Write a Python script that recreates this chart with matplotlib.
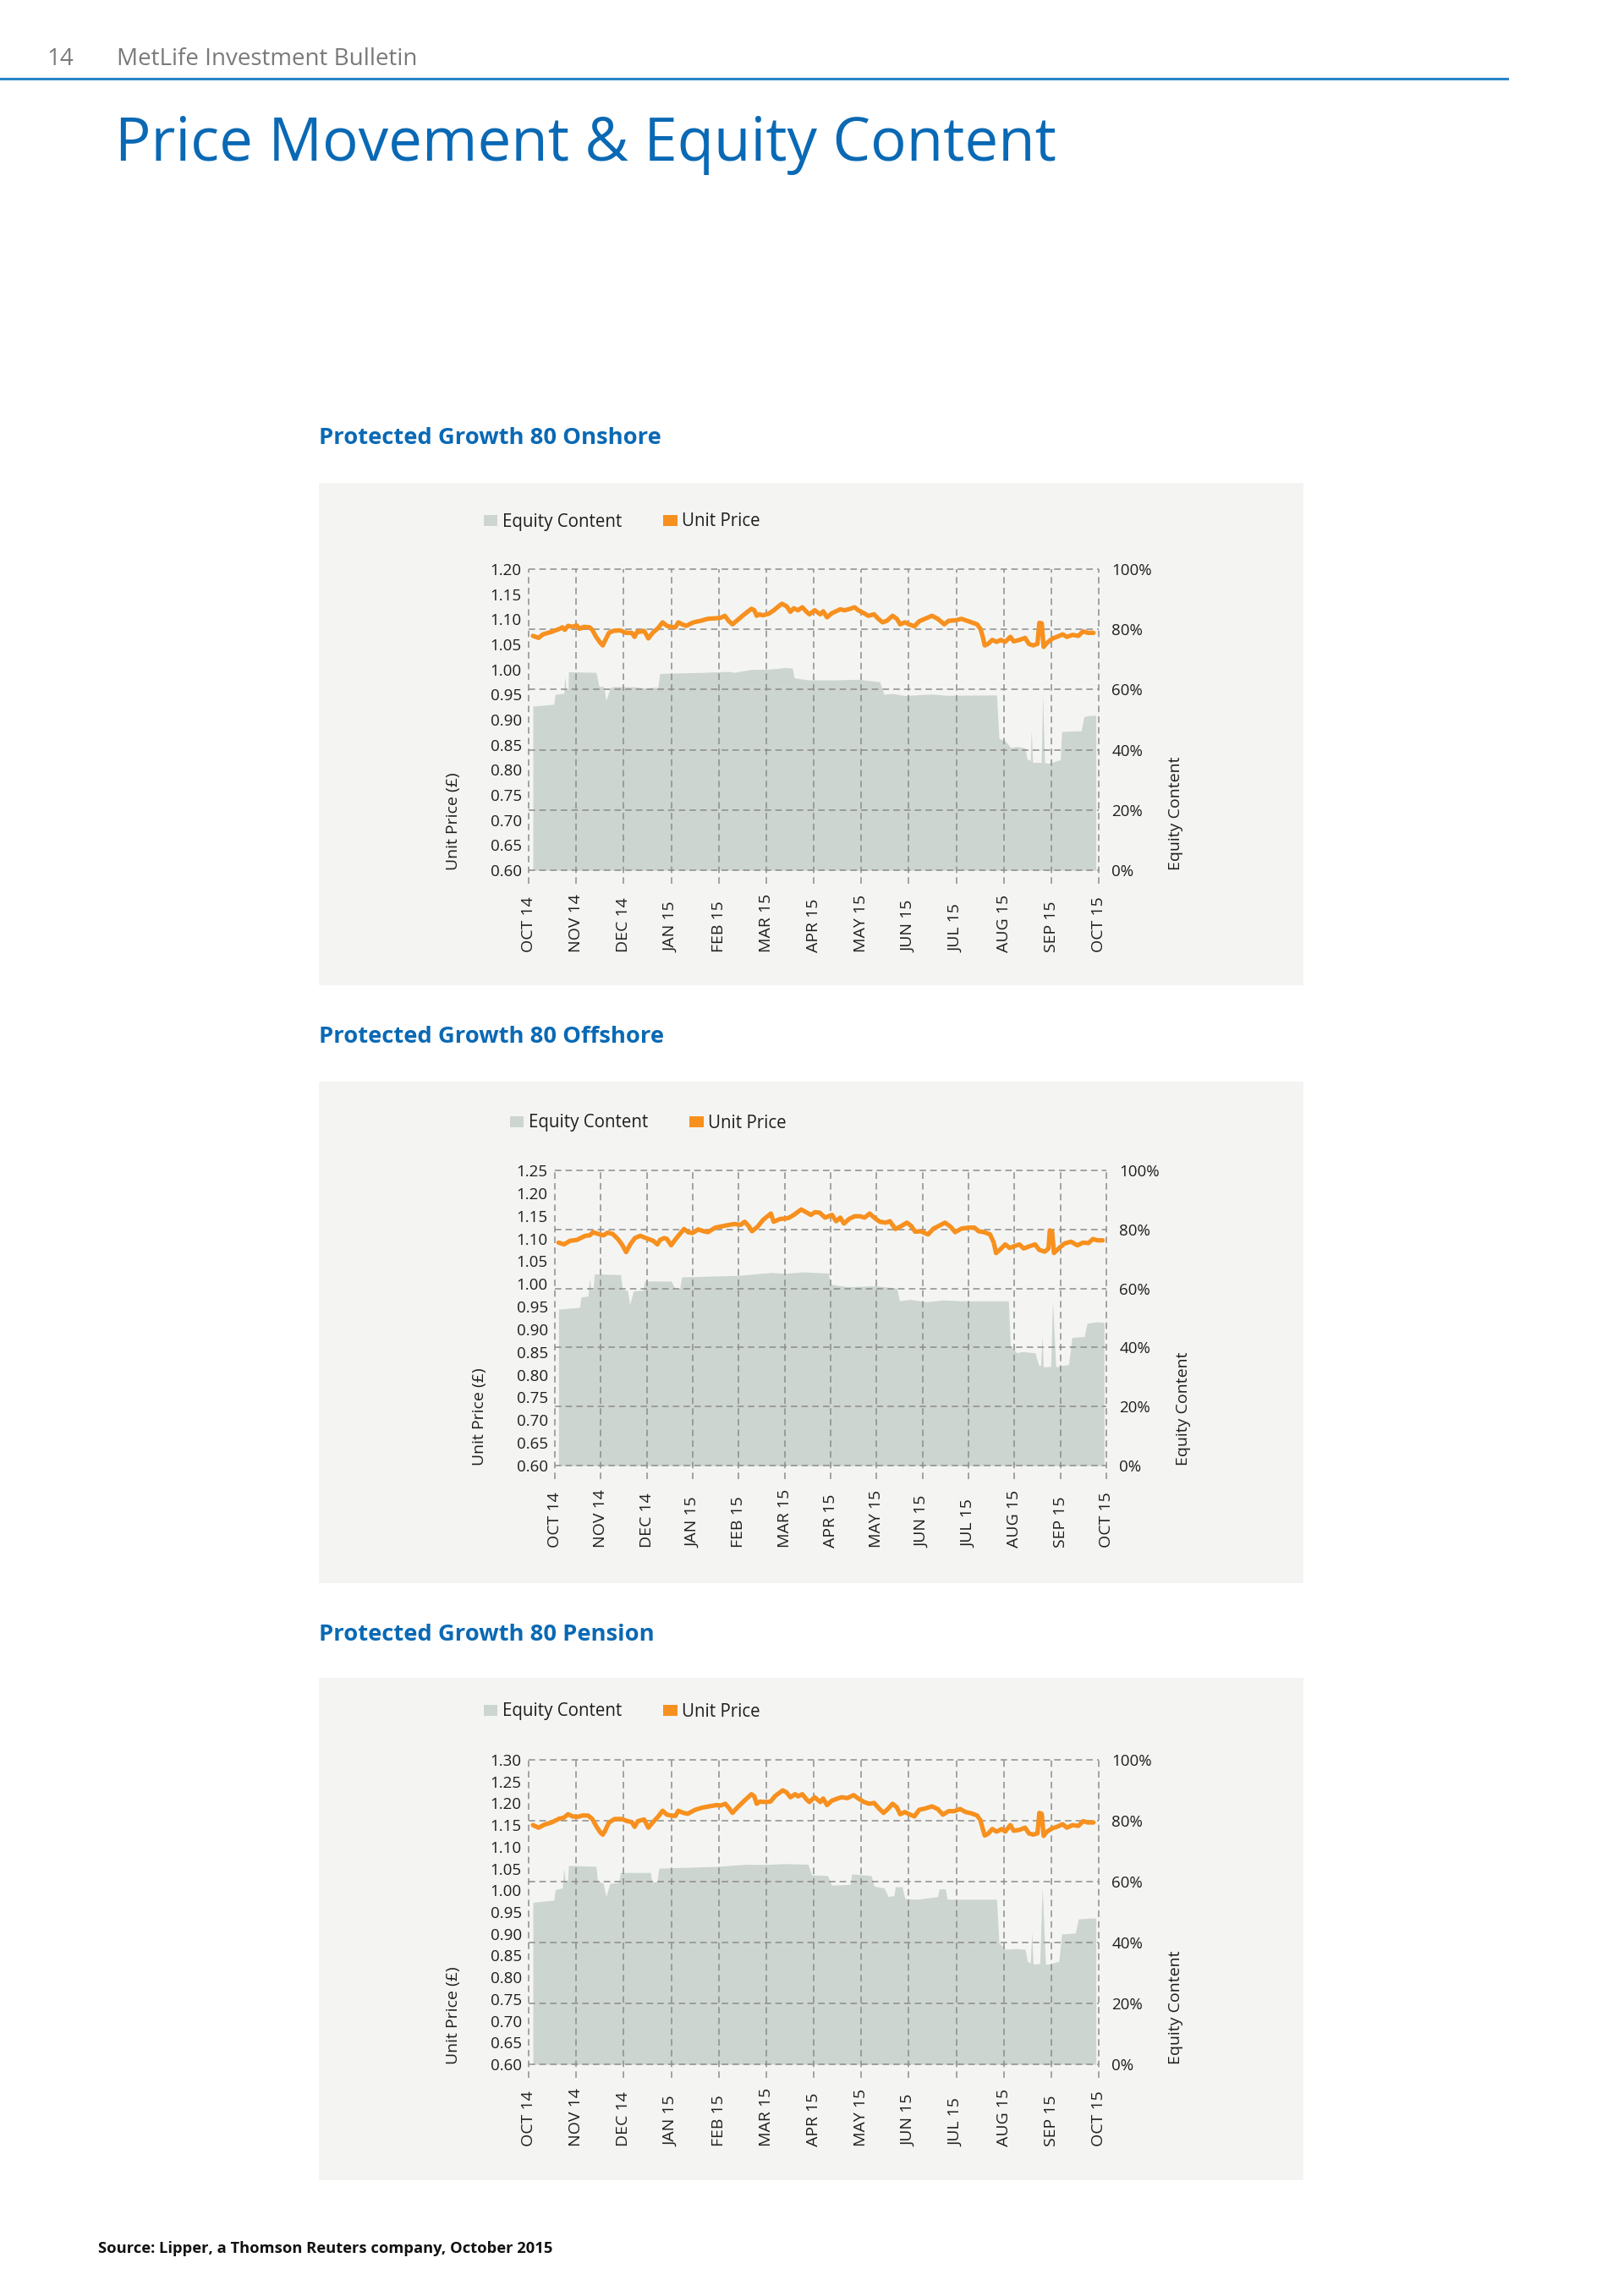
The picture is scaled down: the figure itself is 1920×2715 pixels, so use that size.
import matplotlib
matplotlib.use('Agg')
import matplotlib.pyplot as plt
from matplotlib.patches import Rectangle, Patch
from matplotlib.lines import Line2D
from matplotlib.transforms import ScaledTranslation

# ---------------- data ----------------
months = ["OCT 14", "NOV 14", "DEC 14", "JAN 15", "FEB 15", "MAR 15", "APR 15",
          "MAY 15", "JUN 15", "JUL 15", "AUG 15", "SEP 15", "OCT 15"]
equity_ticks = [0, 20, 40, 60, 80, 100]
equity_tick_labels = ["0%", "20%", "40%", "60%", "80%", "100%"]

titles = ["Protected Growth 80 Onshore", "Protected Growth 80 Offshore", "Protected Growth 80 Pension"]

price_ticks_onshore = [0.60, 0.65, 0.70, 0.75, 0.80, 0.85, 0.90, 0.95, 1.00, 1.05, 1.10, 1.15, 1.20]
price_ticks_offshore = [0.60, 0.65, 0.70, 0.75, 0.80, 0.85, 0.90, 0.95, 1.00, 1.05, 1.10, 1.15, 1.20, 1.25]
price_ticks_pension = [0.60, 0.65, 0.70, 0.75, 0.80, 0.85, 0.90, 0.95, 1.00, 1.05, 1.10, 1.15, 1.20, 1.25, 1.30]

# x positions are in months since OCT 14 (0 = OCT 14, 12 = OCT 15)
price_x_onshore = [0.09, 0.21, 0.30, 0.48, 0.65, 0.71, 0.76, 0.83, 0.92, 1.01, 1.07, 1.16, 1.28, 1.34, 1.42, 1.51,
                   1.56, 1.60, 1.69, 1.78, 1.93, 2.05, 2.17, 2.23, 2.29, 2.34, 2.43, 2.52, 2.61, 2.73, 2.82, 2.91,
                   3.00, 3.09, 3.15, 3.23, 3.32, 3.38, 3.47, 3.62, 3.77, 3.92, 4.04, 4.13, 4.21, 4.29, 4.39, 4.54,
                   4.69, 4.75, 4.80, 4.86, 4.93, 5.05, 5.16, 5.25, 5.33, 5.43, 5.51, 5.58, 5.67, 5.76, 5.85, 5.91,
                   6.02, 6.14, 6.20, 6.28, 6.38, 6.47, 6.56, 6.65, 6.77, 6.86, 6.94, 7.06, 7.15, 7.27, 7.36, 7.45,
                   7.54, 7.66, 7.75, 7.82, 7.92, 8.01, 8.12, 8.22, 8.34, 8.49, 8.61, 8.75, 8.84, 8.99, 9.11, 9.20,
                   9.32, 9.44, 9.51, 9.56, 9.60, 9.67, 9.76, 9.85, 9.94, 10.03, 10.14, 10.21, 10.33, 10.45, 10.53,
                   10.62, 10.71, 10.75, 10.80, 10.84, 10.91, 11.03, 11.12, 11.24, 11.33, 11.45, 11.57, 11.67,
                   11.77, 11.89]
price_onshore = [1.067, 1.063, 1.070, 1.075, 1.081, 1.084, 1.079, 1.087, 1.085, 1.088, 1.081, 1.085, 1.084, 1.079,
                 1.065, 1.053, 1.048, 1.056, 1.073, 1.077, 1.078, 1.073, 1.073, 1.065, 1.076, 1.075, 1.077, 1.062,
                 1.073, 1.083, 1.094, 1.087, 1.085, 1.084, 1.094, 1.090, 1.087, 1.090, 1.094, 1.097, 1.101, 1.102,
                 1.103, 1.107, 1.097, 1.090, 1.098, 1.110, 1.121, 1.118, 1.107, 1.110, 1.108, 1.111, 1.118, 1.125,
                 1.131, 1.126, 1.115, 1.122, 1.118, 1.124, 1.115, 1.110, 1.118, 1.110, 1.116, 1.104, 1.112, 1.116,
                 1.120, 1.118, 1.121, 1.124, 1.118, 1.112, 1.107, 1.110, 1.101, 1.094, 1.097, 1.107, 1.101, 1.090,
                 1.094, 1.090, 1.086, 1.096, 1.101, 1.107, 1.101, 1.090, 1.097, 1.098, 1.101, 1.098, 1.094, 1.090,
                 1.081, 1.065, 1.048, 1.051, 1.059, 1.055, 1.059, 1.055, 1.065, 1.056, 1.059, 1.063, 1.051, 1.048,
                 1.051, 1.093, 1.092, 1.045, 1.053, 1.062, 1.065, 1.070, 1.065, 1.069, 1.067, 1.076, 1.073, 1.073]
equity_x_onshore = [0.09, 0.53, 0.56, 0.71, 0.74, 0.76, 0.79, 0.83, 0.84, 1.42, 1.48, 1.58, 1.63, 1.72, 1.78, 2.23,
                    2.43, 2.61, 2.72, 2.76, 3.15, 3.68, 4.21, 4.33, 4.69, 4.99, 5.16, 5.40, 5.55, 5.59, 5.88, 6.47,
                    6.94, 7.39, 7.48, 7.66, 7.92, 8.25, 8.49, 8.78, 9.85, 9.90, 10.03, 10.15, 10.27, 10.45, 10.49,
                    10.56, 10.58, 10.61, 10.79, 10.82, 10.86, 10.95, 11.13, 11.19, 11.22, 11.63, 11.69, 11.81, 11.94]
equity_onshore = [54.5, 55.1, 58.4, 58.7, 58.7, 64.5, 60.1, 60.1, 65.9, 65.7, 61.0, 61.0, 56.4, 60.6, 61.0, 60.9,
                  60.5, 60.7, 60.7, 65.3, 65.5, 65.7, 66.0, 65.7, 66.7, 66.7, 66.9, 67.3, 67.1, 63.9, 63.2, 63.2,
                  63.4, 62.6, 58.4, 58.7, 58.0, 58.3, 58.5, 58.1, 58.2, 43.7, 43.0, 40.7, 41.1, 40.6, 37.0,
                  36.4, 46.3, 35.8, 35.8, 58.2, 35.7, 35.5, 36.4, 36.6, 46.1, 46.3, 51.0, 51.4, 51.4]

price_x_offshore = [0.08, 0.20, 0.33, 0.48, 0.66, 0.76, 0.83, 0.94, 1.06, 1.15, 1.26, 1.37, 1.46, 1.55, 1.64, 1.74,
                    1.86, 1.98, 2.14, 2.23, 2.29, 2.38, 2.44, 2.53, 2.63, 2.72, 2.81, 2.90, 2.99, 3.12, 3.24, 3.33,
                    3.49, 3.64, 3.79, 3.91, 4.04, 4.13, 4.22, 4.29, 4.41, 4.53, 4.70, 4.76, 4.90, 5.08, 5.20, 5.36,
                    5.45, 5.57, 5.66, 5.76, 5.88, 6.03, 6.12, 6.21, 6.29, 6.40, 6.52, 6.64, 6.74, 6.85, 6.95, 7.07,
                    7.20, 7.29, 7.41, 7.53, 7.66, 7.75, 7.84, 7.96, 8.12, 8.24, 8.36, 8.49, 8.61, 8.71, 8.85, 9.01,
                    9.13, 9.22, 9.34, 9.47, 9.55, 9.60, 9.68, 9.80, 9.90, 9.99, 10.11, 10.20, 10.33, 10.45, 10.54,
                    10.66, 10.74, 10.77, 10.82, 10.86, 10.97, 11.09, 11.23, 11.37, 11.49, 11.61, 11.71, 11.80, 11.92]
price_offshore = [1.091, 1.087, 1.095, 1.097, 1.106, 1.107, 1.114, 1.110, 1.107, 1.113, 1.110, 1.099, 1.087, 1.070,
                  1.087, 1.101, 1.106, 1.101, 1.095, 1.087, 1.097, 1.101, 1.099, 1.085, 1.099, 1.110, 1.121, 1.114,
                  1.112, 1.120, 1.116, 1.114, 1.124, 1.127, 1.130, 1.132, 1.130, 1.137, 1.127, 1.116, 1.126, 1.141,
                  1.155, 1.137, 1.143, 1.145, 1.152, 1.164, 1.159, 1.152, 1.158, 1.157, 1.146, 1.152, 1.138, 1.146,
                  1.133, 1.143, 1.149, 1.149, 1.146, 1.155, 1.146, 1.137, 1.135, 1.138, 1.121, 1.127, 1.135, 1.128,
                  1.115, 1.116, 1.109, 1.122, 1.128, 1.135, 1.126, 1.114, 1.122, 1.124, 1.124, 1.116, 1.114, 1.109,
                  1.091, 1.068, 1.075, 1.087, 1.079, 1.083, 1.087, 1.078, 1.083, 1.087, 1.075, 1.071, 1.078, 1.118,
                  1.115, 1.068, 1.079, 1.089, 1.093, 1.085, 1.091, 1.090, 1.099, 1.096, 1.096]
equity_x_offshore = [0.08, 0.54, 0.57, 0.72, 0.755, 0.785, 0.83, 0.86, 1.43, 1.47, 1.58, 1.63, 1.71, 1.92, 1.95,
                     2.53, 2.63, 2.72, 2.76, 3.24, 3.98, 4.71, 5.02, 5.39, 5.95, 6.00, 6.12, 6.37, 6.98, 7.44, 7.50,
                     7.72, 8.09, 8.45, 8.82, 9.87, 9.91, 10.05, 10.17, 10.45, 10.53, 10.57, 10.60, 10.63, 10.79,
                     10.83, 10.90, 11.03, 11.18, 11.25, 11.52, 11.58, 11.80, 11.95]
equity_offshore = [53.0, 53.6, 57.1, 57.4, 63.5, 59.6, 59.6, 64.9, 64.7, 59.6, 59.4, 54.6, 59.2, 59.4, 62.5,
                   62.5, 59.6, 60.1, 63.9, 64.1, 64.4, 65.4, 65.1, 65.6, 65.2, 61.5, 61.1, 60.6, 60.9, 60.1, 55.8,
                   56.3, 55.5, 56.1, 55.8, 55.8, 40.6, 38.2, 38.6, 38.2, 33.9, 33.9, 43.9, 33.4, 33.6,
                   55.8, 33.4, 33.9, 34.2, 43.4, 43.7, 48.2, 48.7, 48.5]

price_x_pension = [0.09, 0.21, 0.33, 0.48, 0.65, 0.74, 0.83, 0.92, 1.04, 1.13, 1.25, 1.34, 1.42, 1.51, 1.56, 1.60,
                   1.69, 1.81, 1.96, 2.08, 2.17, 2.23, 2.30, 2.43, 2.52, 2.61, 2.73, 2.82, 2.91, 3.00, 3.09, 3.15,
                   3.26, 3.35, 3.50, 3.65, 3.80, 3.95, 4.04, 4.14, 4.21, 4.29, 4.39, 4.54, 4.69, 4.75, 4.80, 4.87,
                   4.99, 5.09, 5.19, 5.35, 5.43, 5.51, 5.61, 5.67, 5.76, 5.85, 5.91, 6.02, 6.14, 6.20, 6.28, 6.38,
                   6.50, 6.59, 6.71, 6.84, 6.94, 7.06, 7.17, 7.27, 7.36, 7.47, 7.57, 7.66, 7.75, 7.82, 7.92, 8.01,
                   8.12, 8.22, 8.34, 8.49, 8.61, 8.72, 8.84, 8.96, 9.08, 9.20, 9.32, 9.44, 9.51, 9.56, 9.60, 9.67,
                   9.76, 9.85, 9.96, 10.03, 10.14, 10.21, 10.33, 10.45, 10.53, 10.62, 10.71, 10.75, 10.80, 10.84,
                   10.91, 11.03, 11.12, 11.24, 11.33, 11.45, 11.57, 11.67, 11.77, 11.89]
price_pension = [1.150, 1.144, 1.151, 1.156, 1.165, 1.167, 1.175, 1.170, 1.169, 1.172, 1.172, 1.164, 1.148, 1.133,
                 1.128, 1.135, 1.156, 1.164, 1.164, 1.159, 1.157, 1.146, 1.159, 1.163, 1.144, 1.156, 1.170, 1.183,
                 1.174, 1.172, 1.171, 1.183, 1.178, 1.176, 1.185, 1.190, 1.193, 1.196, 1.195, 1.199, 1.190, 1.178,
                 1.190, 1.206, 1.221, 1.216, 1.199, 1.204, 1.203, 1.204, 1.217, 1.230, 1.225, 1.214, 1.221, 1.216,
                 1.221, 1.209, 1.203, 1.214, 1.203, 1.211, 1.196, 1.206, 1.211, 1.214, 1.212, 1.219, 1.211, 1.203,
                 1.199, 1.201, 1.190, 1.178, 1.188, 1.199, 1.191, 1.175, 1.180, 1.175, 1.170, 1.185, 1.188, 1.193,
                 1.187, 1.174, 1.182, 1.182, 1.187, 1.180, 1.177, 1.172, 1.161, 1.141, 1.126, 1.130, 1.141, 1.135,
                 1.141, 1.135, 1.150, 1.137, 1.139, 1.144, 1.131, 1.128, 1.131, 1.178, 1.176, 1.125, 1.135, 1.143,
                 1.146, 1.152, 1.144, 1.150, 1.148, 1.159, 1.156, 1.156]
equity_x_pension = [0.09, 0.53, 0.56, 0.71, 0.74, 0.77, 0.82, 0.84, 1.42, 1.45, 1.57, 1.63, 1.71, 1.90, 1.93, 2.56,
                    2.60, 2.70, 2.74, 3.15, 3.98, 4.57, 4.93, 5.40, 5.88, 5.96, 6.29, 6.38, 6.77, 6.80, 7.21, 7.27,
                    7.48, 7.57, 7.69, 7.72, 7.86, 7.92, 8.19, 8.61, 8.64, 8.77, 8.81, 9.85, 9.90, 10.03, 10.27,
                    10.45, 10.50, 10.56, 10.59, 10.62, 10.76, 10.81, 10.88, 10.94, 11.16, 11.22, 11.51, 11.57,
                    11.81, 11.94]
equity_pension = [53.2, 53.9, 57.4, 57.9, 64.4, 60.2, 60.2, 65.3, 65.0, 60.2, 59.4, 55.1, 59.4, 59.7, 63.0, 63.0,
                  59.7, 60.0, 64.4, 64.6, 65.0, 65.7, 65.6, 65.9, 65.7, 62.2, 62.0, 58.8, 59.1, 62.5, 62.0, 58.5,
                  57.9, 55.1, 55.4, 58.3, 58.3, 54.4, 54.2, 55.1, 57.6, 57.6, 54.2, 54.2, 40.0, 37.8, 38.0,
                  37.8, 33.8, 33.3, 43.5, 32.9, 33.1, 58.1, 32.9, 32.9, 33.8, 42.8, 43.1, 47.7,
                  48.0, 48.0]

# ---------------- style ----------------
W, H, DPI = 1920, 2715, 100
BLUE = '#0a69b4'
ORANGE = '#f7901e'
FILL = '#cdd5d0'
PANEL = '#f4f5f3'
GRID = '#8c8c8c'
TXT = '#1e1e1e'

plt.rcParams['font.family'] = ['Open Sans', 'DejaVu Sans']

fig = plt.figure(figsize=(W / DPI, H / DPI), dpi=DPI)
fig.patch.set_facecolor('white')


def fx(px):
    return px / W


def fy(py):
    return 1 - py / H


# header
fig.text(fx(55), fy(77), '14', fontsize=20, color='#7a7a7a', va='baseline')
fig.text(fx(138), fy(77), 'MetLife Investment Bulletin', fontsize=20, color='#7a7a7a', va='baseline')
fig.add_artist(Line2D([0, fx(1782)], [fy(93), fy(93)], color='#2a85c6', lw=2.2))
fig.text(fx(136), fy(190), 'Price Movement & Equity Content', fontsize=51, color=BLUE, va='baseline')

charts = [
    dict(title=titles[0], ticks=price_ticks_onshore, px=price_x_onshore, py=price_onshore,
         ex=equity_x_onshore, ey=equity_onshore,
         box=(625, 673, 1299, 1029), panel=(377, 571, 1541, 1165), tbase=525, leg=(572, 617)),
    dict(title=titles[1], ticks=price_ticks_offshore, px=price_x_offshore, py=price_offshore,
         ex=equity_x_offshore, ey=equity_offshore,
         box=(656, 1384, 1308, 1733), panel=(377, 1279, 1541, 1872), tbase=1233, leg=(603, 1328)),
    dict(title=titles[2], ticks=price_ticks_pension, px=price_x_pension, py=price_pension,
         ex=equity_x_pension, ey=equity_pension,
         box=(625, 2081, 1299, 2441), panel=(377, 1984, 1541, 2578), tbase=1940, leg=(572, 2024)),
]

dash = (0, (5, 3.3))

for c in charts:
    pl, pt, pr, pb = c['panel']
    fig.add_artist(Rectangle((fx(pl), fy(pb)), (pr - pl) / W, (pb - pt) / H,
                             transform=fig.transFigure, facecolor=PANEL, edgecolor='none', zorder=0))
    fig.text(fx(377), fy(c['tbase']), c['title'], fontsize=19.7, fontweight='bold', color=BLUE, va='baseline')

    l, t, r, b = c['box']
    ax = fig.add_axes([fx(l), fy(b), (r - l) / W, (b - t) / H])
    ax2 = ax.twinx()
    ax.set_zorder(ax2.get_zorder() + 1)
    ax.patch.set_visible(False)
    ax2.patch.set_visible(False)

    ax.set_xlim(0, 12)
    ax2.set_xlim(0, 12)
    ax.set_ylim(c['ticks'][0], c['ticks'][-1])
    ax2.set_ylim(0, 100)

    ax2.fill_between(c['ex'], 0, c['ey'], color=FILL, lw=0, zorder=1)
    for v in equity_ticks:
        ax2.axhline(v, color=GRID, lw=1.1, ls=dash, zorder=2, clip_on=False)
    for m in range(len(months)):
        ax2.axvline(m, ymin=-0.045, ymax=1, color=GRID, lw=1.1, ls=dash, zorder=2, clip_on=False)

    ax.plot(c['px'], c['py'], color=ORANGE, lw=3.8, solid_joinstyle='round', solid_capstyle='round', zorder=3)

    for a in (ax, ax2):
        for s in a.spines.values():
            s.set_visible(False)
        a.set_xticks([])

    ax.set_yticks(c['ticks'])
    ax.set_yticklabels(['%.2f' % v for v in c['ticks']])
    ax.tick_params(axis='y', length=0, pad=6, labelsize=13.5, labelcolor=TXT)
    ax2.set_yticks(equity_ticks)
    ax2.set_yticklabels(equity_tick_labels)
    ax2.tick_params(axis='y', length=0, pad=11, labelsize=13.5, labelcolor=TXT)

    off = ScaledTranslation(0, -97 / DPI, fig.dpi_scale_trans)
    for i, lab in enumerate(months):
        ax.text(i, 0, lab, transform=ax.get_xaxis_transform() + off, rotation=90,
                ha='center', va='bottom', fontsize=14, color=TXT)

    ax.text(0, 0, 'Unit Price (£)', transform=ax.transAxes + ScaledTranslation(-89 / DPI, 0, fig.dpi_scale_trans),
            rotation=90, ha='center', va='bottom', fontsize=14, color=TXT)
    ax.text(1, 0, 'Equity Content', transform=ax.transAxes + ScaledTranslation(91 / DPI, 0, fig.dpi_scale_trans),
            rotation=90, ha='center', va='bottom', fontsize=14, color=TXT)

    lx, ly = c['leg']
    ax.legend(handles=[Patch(facecolor=FILL, edgecolor='none'), Patch(facecolor=ORANGE, edgecolor='none')],
              labels=['Equity Content', 'Unit Price'], ncol=2, frameon=False, loc='center left',
              bbox_to_anchor=(fx(lx), fy(ly)), bbox_transform=fig.transFigure, fontsize=14.8,
              handlelength=0.8, handleheight=0.6, handletextpad=0.25, columnspacing=2.4,
              borderpad=0, borderaxespad=0, labelcolor=TXT)

fig.text(fx(116), fy(2664), 'Source: Lipper, a Thomson Reuters company, October 2015', fontsize=13.2,
         fontweight='bold', color='#111111', va='baseline')

fig.savefig('out.png', dpi=DPI, facecolor='white')
